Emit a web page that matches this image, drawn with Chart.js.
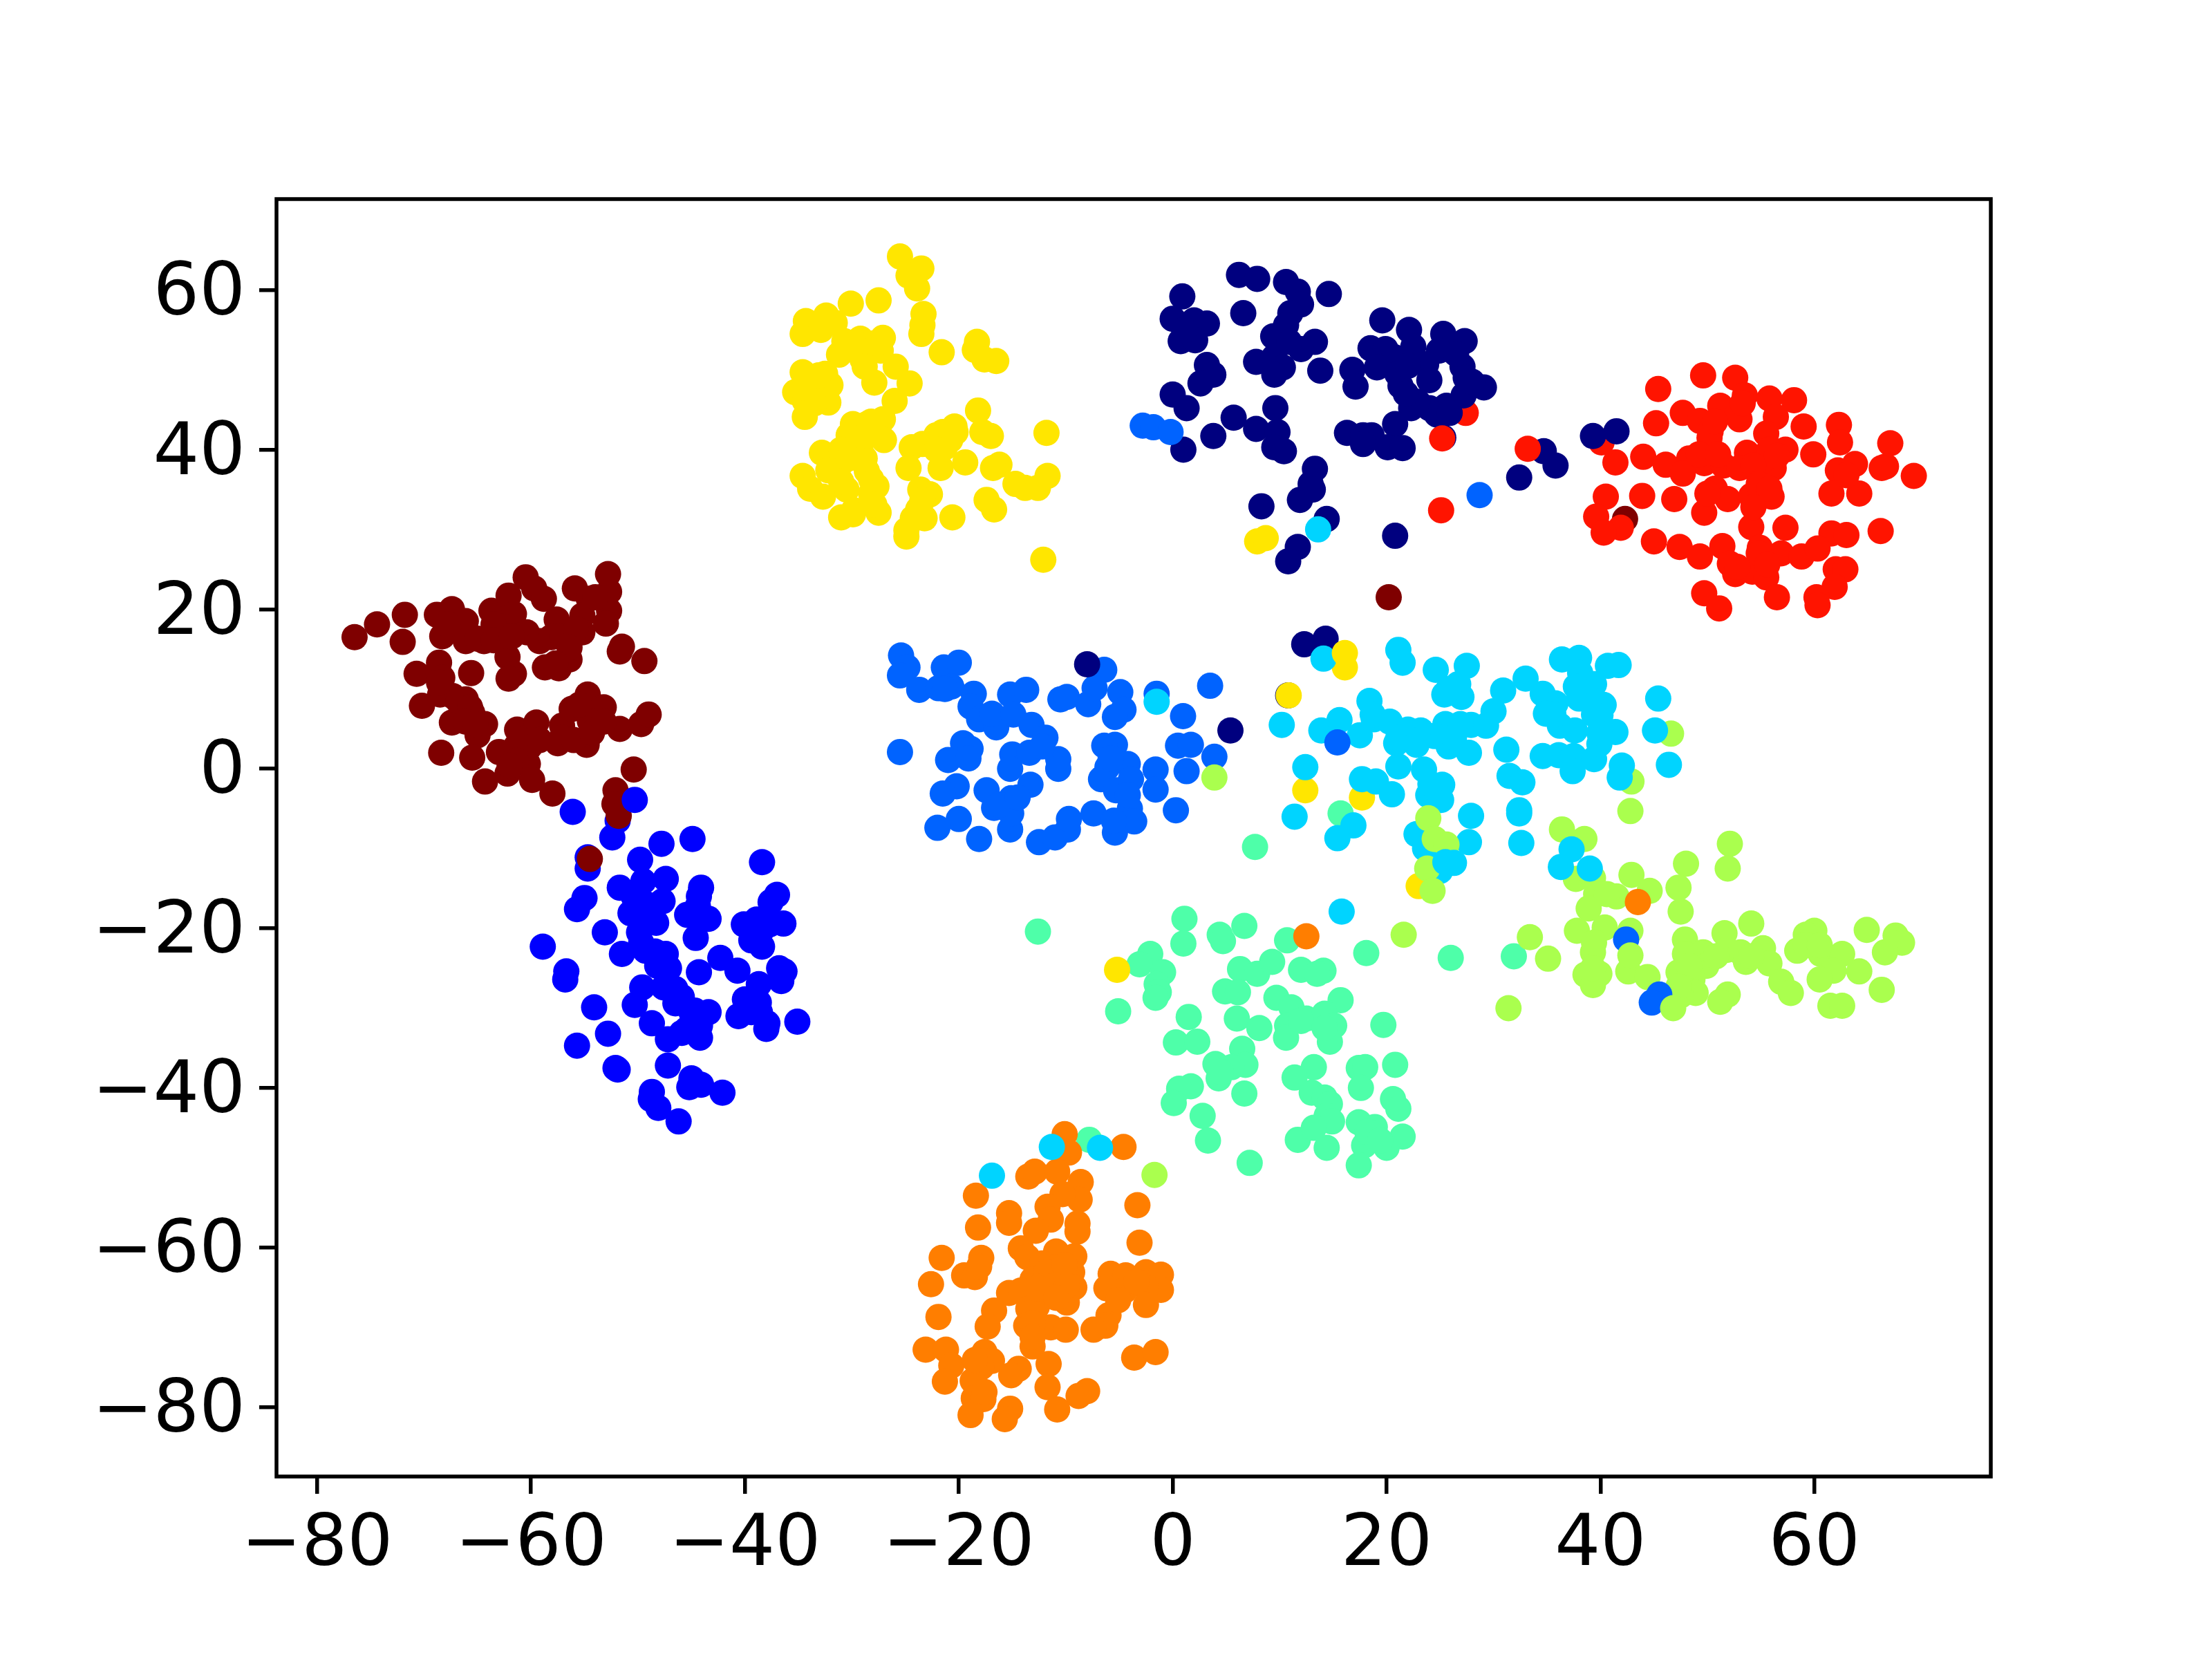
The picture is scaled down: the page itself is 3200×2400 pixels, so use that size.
<!DOCTYPE html>
<html lang="en">
<head>
<meta charset="utf-8">
<title>Scatter</title>
<style>
    html, body { margin: 0; padding: 0; background: #fff; }
    canvas { display: block; }
</style>
</head>
<body>
<canvas id="myChart" width="3200" height="2400"></canvas>
<script src="https://cdn.jsdelivr.net/npm/chart.js"></script>
<script>
// axis ticks and limits
const xTicks = [-80, -60, -40, -20, 0, 20, 40, 60];
const yTicks = [-80, -60, -40, -20, 0, 20, 40, 60];
const xLimits = [-83.8, 76.5];
const yLimits = [-88.7, 71.4];

// class colours, jet with 10 steps
const classColors = ['#00007f', '#0000ff', '#0063ff', '#00d4ff', '#4effa9', '#aaff4e', '#ffe600', '#ff7e00', '#ff1400', '#7f0000'];

const navy = [[6.2,61.9],[7.9,61.4],[10.6,61.0],[11.7,59.8],[14.6,59.5],[0.9,59.2],[6.6,57.1],[12.0,58.2],[11.0,57.1],[0.0,56.4],[2.0,56.2],[3.2,55.8],[0.75,53.6],[2.1,53.7],[1.1,55.0],[10.6,55.6],[9.4,54.2],[13.3,53.5],[12.0,52.6],[7.8,51.0],[9.5,51.6],[10.3,50.3],[9.5,49.4],[13.8,49.9],[3.2,50.6],[3.8,49.4],[2.6,48.3],[0.0,46.9],[1.3,45.2],
    [19.6,56.2],[22.1,55.0],[25.3,54.5],[27.3,53.6],[18.5,52.7],[19.9,52.6],[22.5,52.9],[24.9,52.4],[20.7,51.6],[16.8,50.0],[19.1,50.3],[23.7,50.7],[27.1,50.4],[17.1,47.9],[21.3,48.0],[24.0,48.7],[27.4,49.0],[29.1,47.8],[27.2,46.8],[22.3,45.2],[24.0,45.2],[25.6,45.5],[24.7,44.4],[20.8,43.2],[25.9,44.6],[16.3,42.1],[17.8,41.8],[18.6,41.8],[17.8,40.7],[20.1,40.3],[21.5,40.2],[25.3,41.5],
    [9.6,45.2],[5.7,44.0],[7.8,42.6],[9.8,42.2],[9.5,40.3],[10.4,39.8],[3.8,41.7],[1.0,40.0],[13.3,37.6],[12.9,35.7],[13.1,35.0],[11.9,33.7],[8.3,32.9],[14.4,31.3],[11.7,27.8],[10.8,26.0],[20.8,29.2],
    [34.7,39.8],[35.8,38.0],[32.4,36.5],[39.3,41.7],[41.5,42.3],[12.3,15.6],[14.3,16.3],
    [21.0,49.5],[22.0,50.5],[26.5,52.0],[28.0,48.5],[10.9,53.5],[22.9,46.0],[21.8,47.0]];

const blue = [[-56.1,-5.4],[-51.9,-6.5],[-52.4,-8.6],[-47.8,-9.4],[-44.9,-8.8],[-54.7,-11.1],[-54.7,-12.5],[-49.8,-11.4],[-38.4,-11.7],[-49.5,-14.1],[-47.4,-13.8],[-51.7,-14.9],[-55.0,-16.2],[-55.7,-17.6],[-44.1,-14.9],[-44.3,-16.0],[-37.0,-15.8],[-37.6,-16.7],[-47.7,-16.6],[-50.2,-17.3],[-50.7,-18.1],[-45.4,-18.3],[-43.4,-18.8],[-44.4,-18.6],[-48.3,-19.3],[-40.1,-19.5],[-38.9,-18.9],[-36.4,-19.4],[-37.7,-19.5],[-53.1,-20.5],[-49.9,-20.5],[-44.6,-21.2],[-39.4,-21.5],[-38.4,-22.3],[-58.9,-22.3],[-51.5,-23.2],[-49.3,-22.8],[-47.4,-23.2],[-47.1,-25.0],[-48.2,-24.7],[-42.3,-23.7],[-40.7,-25.3],[-44.3,-25.5],[-56.7,-25.4],[-56.8,-26.4],[-36.8,-25.0],[-36.3,-25.4],[-36.6,-26.6],[-38.7,-27.0],[-49.6,-27.4],[-47.6,-27.4],[-45.9,-28.6],[-46.5,-29.4],[-40.0,-28.9],[-50.3,-29.6],[-43.4,-30.5],[-44.7,-30.3],[-54.1,-29.9],[-38.6,-30.5],[-40.6,-31.0],[-38.0,-32.6],[-48.7,-31.9],[-35.1,-31.7],[-45.4,-32.6],[-44.2,-32.2],[-44.2,-33.7],[-47.2,-33.9],[-52.8,-33.2],[-55.7,-34.7],[-52.1,-37.5],[-51.9,-37.7],[-47.2,-37.2],[-45.0,-38.8],[-44.1,-39.6],[-45.2,-39.9],[-42.1,-40.6],[-48.7,-40.5],[-48.8,-41.4],[-48.1,-42.5],[-46.2,-44.2],
    [-50.4,-16.0],[-49.3,-16.9],[-49.7,-18.9],[-49.7,-21.8],[-48.4,-22.9],[-44.4,-17.2],[-39.4,-20.0],[-38.3,-20.0],[-37.9,-18.6],[-46.5,-27.6],[-45.0,-30.5],[-44.8,-31.9],[-45.9,-33.1],[-39.4,-30.5],[-38.7,-29.3],[-37.9,-31.9]];

const azure = [[-25.4,14.2],[-24.8,12.7],[-25.5,11.7],[-23.7,9.9],[-21.4,12.7],[-20.0,13.3],[-21.9,10.1],[-20.7,10.3],[-18.6,9.4],[-18.9,7.8],[-18.1,6.2],[-16.5,5.2],[-16.9,6.9],[-15.2,9.3],[-13.7,9.9],[-14.9,6.8],[-13.2,5.5],[-11.9,3.9],[-25.5,2.1],[-19.6,3.2],[-18.9,2.5],[-21.0,1.1],[-19.1,1.3],[-15.0,1.8],[-13.4,2.0],[-15.2,0.0],[-10.7,1.2],[-10.7,0.0],[-13.3,-2.0],[-20.2,-2.2],[-21.5,-3.1],[-17.4,-2.7],[-15.1,-3.7],[-16.7,-4.9],[-20.0,-6.3],[-22.0,-7.4],[-18.1,-8.8],[-15.2,-7.6],[-15.1,-5.6],[-12.5,-9.2],[-11.0,-8.6],[-9.8,-7.6],[-9.7,-6.3],[-10.5,8.7],[-9.9,9.0],[-7.9,8.1],[-6.4,12.4],[-7.3,10.1],[-4.9,9.6],[-4.6,7.4],[-5.4,6.5],[3.5,10.4],[0.97,6.6],[0.5,2.9],[1.7,3.0],[3.9,1.5],[1.3,-0.3],[0.3,-5.2],[-5.4,3.0],[-6.4,2.9],[-4.2,0.6],[-6.1,0.2],[-6.7,-1.3],[-1.6,-0.1],[-1.6,-2.6],[-5.3,-2.7],[-3.9,-1.3],[-4.0,-5.0],[-3.6,-6.6],[-7.4,-5.6],[-5.4,-8.0],[-5.5,-6.5],
    [-2.8,43.0],[-1.8,42.8],[-0.2,42.2],[28.7,34.3],
    [-21.3,10.0],[-5.8,1.3],[-4.2,-3.3],[-16.2,-4.5],[-14.5,-3.6],[-12.2,2.8]];

const cyan = [[21.1,14.9],[21.5,13.3],[24.6,12.4],[27.5,12.9],[26.7,10.6],[25.4,9.3],[27.0,9.0],[33.0,11.3],[30.9,9.8],[36.4,13.7],[38.0,13.9],[40.7,12.9],[41.7,13.0],[38.1,12.0],[39.4,10.6],[34.6,9.4],[35.8,8.2],[38.0,8.8],[40.3,8.0],[39.2,8.5],[45.4,8.8],[30.0,7.2],[34.9,6.9],[36.2,5.4],[37.6,4.8],[40.0,6.7],[41.4,4.6],[45.1,4.8],[18.4,8.5],[10.2,5.5],[13.9,4.8],[15.6,6.1],[17.5,4.2],[18.8,6.2],[20.3,5.9],[22.0,4.9],[23.2,4.8],[25.5,5.6],[24.5,4.1],[27.9,5.5],[29.3,5.4],[20.9,3.2],[22.8,3.0],[25.8,2.8],[27.7,2.0],[31.2,2.4],[34.6,1.6],[36.1,1.7],[37.5,1.6],[39.4,1.2],[39.9,3.1],[37.4,-0.3],[42.0,0.4],[41.8,-1.1],[46.4,0.5],[12.4,0.2],[21.1,0.3],[17.7,-1.3],[19.0,-1.6],[20.5,-3.2],[23.5,-0.1],[25.2,-2.0],[23.9,-3.3],[25.1,-3.9],[31.5,-0.9],[32.7,-1.7],[32.4,-5.2],[32.4,-5.6],[27.9,-5.9],[27.7,-9.2],[32.6,-9.3],[11.4,-6.0],[16.9,-7.1],[15.4,-8.7],[22.8,-8.2],[23.6,-10.0],[25.0,-12.8],[15.8,-17.9],
    [21.1,3.9],[23.0,3.6],[26.3,3.9],[26.9,5.6],[37.7,10.3],[39.4,6.8],[35.6,6.8],[39.9,4.5],[24.1,-1.9],[18.7,6.8],[25.8,10.0]];

const mint = [[-12.6,-20.4],[1.1,-18.8],[1.0,-21.9],[6.7,-19.7],[4.4,-20.8],[4.7,-21.6],[10.7,-21.5],[18.1,-23.1],[-2.1,-23.2],[-3.1,-24.5],[-0.9,-25.5],[-1.5,-27.0],[-1.3,-28.0],[-1.6,-28.7],[-5.1,-30.4],[6.3,-25.1],[7.9,-25.7],[9.3,-24.2],[12.0,-25.2],[14.1,-25.3],[13.5,-25.7],[4.9,-27.9],[6.1,-28.0],[9.7,-28.7],[15.7,-29.0],[11.1,-29.9],[1.5,-31.1],[6.0,-31.3],[8.1,-32.5],[12.5,-31.3],[14.2,-30.7],[15.1,-32.2],[10.7,-32.2],[10.6,-33.7],[14.7,-34.2],[19.7,-32.1],[0.3,-34.3],[2.3,-34.2],[6.5,-35.1],[4.0,-37.0],[6.8,-37.1],[4.3,-38.8],[5.5,-37.4],[13.2,-37.4],[11.4,-38.7],[17.4,-37.5],[18.0,-37.4],[20.8,-37.1],[17.6,-40.0],[13.0,-40.6],[14.2,-41.2],[14.7,-42.0],[14.4,-43.5],[14.9,-44.2],[6.7,-40.7],[1.7,-39.8],[0.6,-40.1],[0.1,-41.9],[2.8,-43.5],[3.3,-46.6],[11.7,-46.5],[14.4,-47.5],[7.2,-49.4],[17.4,-44.3],[18.9,-44.9],[20.6,-41.4],[21.1,-42.6],[21.5,-46.1],[20.0,-47.5],[17.9,-47.2],[17.4,-49.7],[-7.8,-46.5],
    [7.7,-9.8],[26.0,-23.7],[31.9,-23.5],
    [12.0,-31.6],[14.2,-32.5],[4.5,-38.0],[18.2,-45.5],[19.4,-46.6],[13.2,-45.0]];

const lime = [[42.8,-5.3],[36.4,-7.6],[38.5,-8.8],[52.1,-9.4],[51.9,-12.5],[48.0,-11.9],[42.9,-13.3],[44.6,-15.3],[47.3,-14.9],[47.5,-17.9],[37.7,-13.8],[39.3,-13.7],[39.6,-15.7],[41.5,-16.0],[38.9,-17.5],[37.8,-20.3],[40.4,-19.9],[42.8,-20.3],[33.4,-21.1],[21.6,-20.8],[35.1,-23.8],[39.3,-23.0],[38.6,-25.8],[39.9,-25.7],[39.3,-27.1],[42.6,-25.4],[44.4,-26.1],[31.4,-30.0],[47.9,-21.4],[51.6,-20.6],[54.1,-19.4],[60.0,-20.3],[59.2,-20.8],[64.9,-20.2],[67.6,-20.9],[68.2,-21.8],[66.6,-23.0],[58.4,-22.8],[49.6,-23.0],[51.8,-22.7],[53.1,-23.0],[55.2,-22.5],[55.8,-24.4],[53.6,-24.2],[60.6,-23.2],[62.6,-23.2],[61.8,-25.3],[60.5,-26.4],[64.2,-25.4],[47.3,-25.5],[49.9,-24.7],[48.6,-26.4],[48.9,-28.1],[56.9,-26.7],[57.8,-28.1],[51.9,-28.3],[51.2,-29.2],[66.3,-27.7],[61.5,-29.7],[62.6,-29.7],[47.5,-28.4],
    [23.9,-6.2],[24.5,-8.8],[25.6,-9.5],[23.8,-12.5],[24.3,-15.3],[3.9,-1.1],[-1.7,-50.9],
    [47.9,-23.2],[48.3,-24.7],[50.8,-23.5],[54.1,-23.5],[59.2,-22.1],[60.5,-22.1],[39.3,-25.0],[39.4,-21.8],[47.3,-27.3],[40.6,-15.7]];

const yellow = [[-25.5,64.2],[-23.5,62.7],[-24.7,61.8],[-23.9,60.2],[-30.1,58.3],[-27.5,58.7],[-23.3,57.0],[-23.5,54.5],[-23.4,55.6],[-34.3,56.1],[-32.4,56.8],[-34.6,54.5],[-32.9,55.0],[-31.6,55.9],[-30.7,53.6],[-29.2,53.9],[-27.1,54.0],[-28.2,53.3],[-31.2,51.9],[-29.4,52.4],[-29.0,51.3],[-27.3,52.4],[-25.9,50.4],[-21.6,52.2],[-18.3,53.5],[-18.5,52.5],[-17.6,51.3],[-16.5,51.1],[-27.9,48.4],[-24.6,48.3],[-34.6,49.7],[-32.5,49.5],[-35.3,47.2],[-33.5,48.1],[-32.0,48.1],[-34.4,46.1],[-32.2,45.9],[-34.4,44.1],[-26.0,46.1],[-27.1,43.8],[-29.9,43.2],[-28.6,43.2],[-27.0,41.2],[-30.3,41.8],[-29.0,41.5],[-18.2,44.9],[-17.8,42.2],[-17.0,41.7],[-11.8,42.1],[-21.5,42.2],[-20.3,42.2],[-22.1,41.8],[-23.4,40.7],[-24.4,40.3],[-21.3,40.3],[-32.8,39.6],[-31.0,40.0],[-31.0,38.3],[-24.7,37.7],[-21.7,37.7],[-19.4,38.4],[-16.2,38.1],[-16.8,37.7],[-34.6,36.7],[-32.2,37.4],[-28.6,37.3],[-33.9,35.1],[-32.7,34.1],[-30.5,35.0],[-27.7,35.4],[-28.2,36.3],[-23.6,35.0],[-22.7,34.4],[-14.7,35.7],[-13.8,35.2],[-12.6,35.2],[-11.7,36.7],[-17.4,33.7],[-16.7,32.5],[-27.5,32.1],[-31.0,31.5],[-29.8,32.4],[-23.8,32.5],[-23.2,31.4],[-20.6,31.5],[-24.9,29.9],[-24.9,29.1],[-24.3,31.4],[-12.1,26.2],
    [7.9,28.5],[8.7,28.9],[16.1,12.7],
    [-33.3,47.5],[-33.1,49.3],[-33.5,45.8],[-34.6,47.8],[-28.2,52.4],[-30.3,53.0],[-28.8,50.4],[-29.2,40.0],[-30.3,38.9],[-28.8,38.9],[-31.0,36.0],[-28.2,43.5],[-28.6,41.8],[-28.2,34.5],[-27.9,33.1],[-29.9,31.9],[-20.8,41.2],[-20.4,42.9],[-22.1,40.0],[-23.4,33.7]];

const orange = [[-10.1,-45.8],[-9.7,-48.1],[-4.6,-47.4],[-3.3,-54.7],[-3.1,-59.4],[-13.5,-51.1],[-12.9,-50.5],[-10.8,-50.5],[-8.6,-51.8],[-8.7,-54.0],[-10.3,-53.3],[-11.7,-54.9],[-11.4,-56.5],[-18.4,-53.5],[-15.3,-55.7],[-15.3,-56.9],[-18.2,-57.5],[-12.8,-57.9],[-8.9,-57.0],[-8.9,-58.0],[-14.2,-60.1],[-13.6,-61.2],[-10.9,-60.5],[-9.2,-61.1],[-12.2,-62.0],[-21.6,-61.3],[-17.9,-61.3],[-19.5,-63.5],[-18.5,-63.7],[-18.1,-62.4],[-22.6,-64.6],[-5.8,-63.3],[-4.4,-63.5],[-2.5,-63.1],[-1.1,-63.4],[-1.1,-65.3],[-2.5,-65.1],[-6.2,-65.1],[-4.5,-65.4],[-2.5,-67.2],[-6.0,-68.5],[-6.3,-69.8],[-7.4,-70.3],[-13.1,-64.0],[-9.4,-63.1],[-9.2,-65.0],[-10.9,-65.1],[-9.9,-66.9],[-15.3,-65.7],[-14.2,-65.4],[-16.7,-67.9],[-17.3,-69.9],[-21.9,-68.7],[-13.5,-67.7],[-12.7,-67.4],[-13.7,-69.8],[-11.4,-70.0],[-10.0,-70.3],[-13.1,-72.4],[-23.1,-72.8],[-21.2,-72.8],[-20.7,-74.8],[-21.3,-76.8],[-17.6,-73.1],[-16.9,-74.2],[-17.9,-75.0],[-14.4,-75.2],[-15.1,-76.0],[-11.6,-74.6],[-3.6,-73.8],[-1.6,-73.1],[-18.7,-76.7],[-11.7,-77.5],[-8.0,-78.0],[-8.8,-78.6],[-10.8,-80.3],[-18.6,-78.9],[-17.7,-79.0],[-18.9,-81.0],[-15.2,-80.2],[-15.7,-81.5],
    [43.5,-16.7],[12.5,-21.0],
    [-10.9,-62.5],[-11.8,-63.1],[-12.0,-64.8],[-10.1,-62.2],[-12.7,-65.1],[-3.4,-64.3],[-5.1,-66.6],[-13.1,-69.5],[-13.1,-71.2],[-18.5,-74.1],[-9.9,-64.8],[-10.9,-66.3],[-17.6,-78.1]];

const red = [[49.6,49.3],[52.6,49.0],[45.4,47.6],[53.5,46.8],[55.8,46.4],[58.1,46.2],[47.7,44.6],[51.2,45.5],[49.3,43.6],[53.0,43.8],[56.4,44.1],[45.2,43.3],[59.0,42.9],[62.3,43.1],[50.3,42.3],[55.5,42.0],[62.4,40.9],[67.1,40.8],[57.3,40.0],[50.2,40.0],[53.7,39.6],[59.9,39.4],[44.0,39.1],[41.4,38.4],[46.1,38.1],[48.3,38.9],[49.7,38.3],[51.5,38.0],[47.7,37.0],[53.0,37.7],[56.2,37.7],[54.8,37.1],[62.2,37.4],[63.8,38.2],[66.7,37.9],[66.3,37.7],[69.3,36.7],[50.7,35.1],[61.6,34.5],[64.2,34.5],[40.5,34.1],[43.9,34.2],[46.9,33.8],[51.9,33.8],[54.1,34.2],[56.0,34.1],[49.7,32.1],[39.6,31.6],[54.1,30.3],[57.3,30.2],[41.9,30.2],[40.3,29.6],[45.0,28.5],[47.4,27.8],[49.3,26.6],[51.4,27.9],[61.6,29.5],[63.0,29.3],[66.2,29.8],[54.9,27.7],[56.9,27.0],[58.8,26.6],[60.3,27.6],[52.1,25.7],[52.6,24.4],[54.2,24.7],[55.5,24.0],[62.0,25.0],[62.9,25.0],[61.9,22.8],[60.2,21.5],[60.3,20.5],[49.7,22.0],[51.1,20.1],[56.5,21.5],
    [33.2,40.1],[25.2,41.4],[25.1,32.4],
    [50.2,41.5],[49.2,39.4],[51.0,39.4],[52.8,44.4],[53.3,45.8],[50.7,43.5],[55.8,40.0],[56.5,39.2],[54.3,38.0],[54.8,35.7],[55.8,35.1],[63.0,36.8],[50.0,34.5],[54.3,32.8],[54.8,27.0],[52.8,25.3],[55.6,25.6]];

const maroon = [[-76.5,16.5],[-74.4,18.1],[-71.8,19.3],[-72.0,15.9],[-68.8,19.3],[-67.4,20.0],[-68.3,16.6],[-67.0,17.8],[-66.1,18.5],[-66.1,16.0],[-64.4,16.0],[-63.7,19.8],[-62.1,21.7],[-61.6,19.4],[-62.7,17.8],[-60.5,24.0],[-59.7,22.6],[-58.8,21.3],[-60.4,17.1],[-59.2,16.0],[-57.6,18.7],[-58.1,16.5],[-55.9,22.6],[-54.6,21.3],[-55.2,19.2],[-55.2,17.1],[-52.8,24.4],[-52.7,22.2],[-52.7,19.8],[-53.0,18.2],[-51.5,15.3],[-51.7,14.7],[-49.4,13.5],[-56.4,13.7],[-57.4,12.6],[-58.7,12.7],[-62.2,14.0],[-61.6,11.9],[-62.1,11.3],[-68.6,13.3],[-70.7,11.9],[-68.7,12.3],[-65.6,12.0],[-68.5,9.3],[-67.3,9.1],[-66.1,8.7],[-70.2,7.9],[-65.5,7.0],[-67.4,5.8],[-64.3,5.6],[-65.0,4.2],[-68.4,2.0],[-65.5,1.4],[-63.0,2.1],[-61.3,4.9],[-59.5,5.8],[-61.4,2.8],[-60.1,2.8],[-57.1,5.4],[-56.2,7.5],[-54.7,9.3],[-53.2,7.7],[-54.5,6.0],[-57.5,3.2],[-54.8,3.0],[-51.7,5.0],[-49.7,5.6],[-49.0,6.8],[-60.3,0.6],[-62.2,-0.6],[-64.3,-1.6],[-59.9,-1.4],[-58.0,-3.1],[-50.4,-0.1],[-52.1,-2.7],[-52.2,-4.4],[-51.8,-5.9],[-54.5,-11.3],
    [20.2,21.5],
    [-67.8,18.1],[-65.0,16.3],[-63.5,18.1],[-63.5,16.1],[-61.8,16.6],[-57.1,16.6],[-55.8,17.5],[-56.4,15.2],[-57.7,13.2],[-66.8,8.5],[-65.7,7.7],[-66.1,5.9],[-65.2,5.6],[-60.9,3.6],[-59.2,3.6],[-61.4,1.0],[-62.0,0.4],[-57.1,3.9],[-56.0,3.6],[-54.3,4.5],[-53.2,5.9],[-55.5,8.0],[-68.3,11.4],[-68.6,10.8],[-54.0,21.5]];

// strays that sit under or over the clusters, [x, y, class]
const strayUnder = [[42.3,31.3,9],[40.1,40.9,8],[27.4,44.6,8],[12.4,-2.7,6],[17.7,-3.6,6],[23.0,-14.7,6],[15.7,-5.6,4],[46.6,4.4,5],[42.9,-1.6,5]];
const strayOver = [[-50.3,-3.9,1],[-8.0,13.1,0],[5.4,4.8,0],[15.4,3.3,2],[-1.5,9.4,2],[-1.5,8.4,3],[10.8,9.2,0],[10.85,9.2,6],[14.1,13.8,3],[16.1,14.5,6],[13.6,30.0,3],[37.3,-10.1,3],[36.3,-12.3,3],[39.0,-12.5,3],[25.5,-11.7,3],[26.3,-11.8,3],[42.4,-21.4,2],[42.8,-23.4,5],[45.5,-28.3,2],[44.8,-29.3,2],[46.8,-30.0,5],[-5.2,-25.2,6],[-11.3,-47.4,3],[-6.8,-47.5,3],[-16.9,-51.0,3]];

const toPoints = list => list.map(p => ({x: p[0], y: p[1]}));

const clusterSet = (list, colorIndex) => ({
    data: toPoints(list),
    backgroundColor: classColors[colorIndex],
    pointRadius: 19,
    pointBorderWidth: 0,
    showLine: false,
});

const straySet = list => ({
    data: toPoints(list),
    backgroundColor: list.map(p => classColors[p[2]]),
    pointRadius: 19,
    pointBorderWidth: 0,
    showLine: false,
});

const minusLabel = v => String(v).replace('-', '\u2212');

// the box round the plot, matplotlib style
const frame = {
    id: 'frame',
    afterDatasetsDraw(chart) {
        const {ctx, chartArea: a} = chart;
        ctx.save();
        ctx.strokeStyle = '#000';
        ctx.lineWidth = 5.5;
        ctx.strokeRect(a.left, a.top, a.right - a.left, a.bottom - a.top);
        ctx.restore();
    }
};

const axisTicks = values => scale => {
    scale.ticks = values.map(v => ({value: v}));
};

const ctx = document.getElementById('myChart').getContext('2d');
const myChart = new Chart(ctx, {
    type: 'scatter',
    data: {
        // chart.js paints the first dataset last, so the top layer goes first
        datasets: [
            straySet(strayOver),
            clusterSet(maroon, 9),
            clusterSet(red, 8),
            clusterSet(orange, 7),
            clusterSet(yellow, 6),
            clusterSet(lime, 5),
            clusterSet(mint, 4),
            clusterSet(cyan, 3),
            clusterSet(azure, 2),
            clusterSet(blue, 1),
            clusterSet(navy, 0),
            straySet(strayUnder),
        ]
    },
    options: {
        responsive: false,
        devicePixelRatio: 1,
        animation: false,
        layout: {padding: {left: 0, top: 288, right: 320, bottom: 0}},
        plugins: {legend: {display: false}, tooltip: {enabled: false}},
        scales: {
            x: {
                type: 'linear',
                min: xLimits[0],
                max: xLimits[1],
                afterBuildTicks: axisTicks(xTicks),
                afterFit: scale => { scale.height = 264; },
                border: {display: false},
                grid: {drawOnChartArea: false, color: '#000', lineWidth: 5.5, tickLength: 25},
                ticks: {
                    color: '#000',
                    font: {family: 'DejaVu Sans', size: 104},
                    padding: 14,
                    maxRotation: 0,
                    autoSkip: false,
                    callback: minusLabel
                }
            },
            y: {
                type: 'linear',
                min: yLimits[0],
                max: yLimits[1],
                afterBuildTicks: axisTicks(yTicks),
                afterFit: scale => { scale.width = 400; },
                border: {display: false},
                grid: {drawOnChartArea: false, color: '#000', lineWidth: 5.5, tickLength: 25},
                ticks: {
                    color: '#000',
                    font: {family: 'DejaVu Sans', size: 105},
                    padding: 20,
                    labelOffset: 8,
                    autoSkip: false,
                    callback: minusLabel
                }
            }
        }
    },
    plugins: [frame]
});
</script>
</body>
</html>
